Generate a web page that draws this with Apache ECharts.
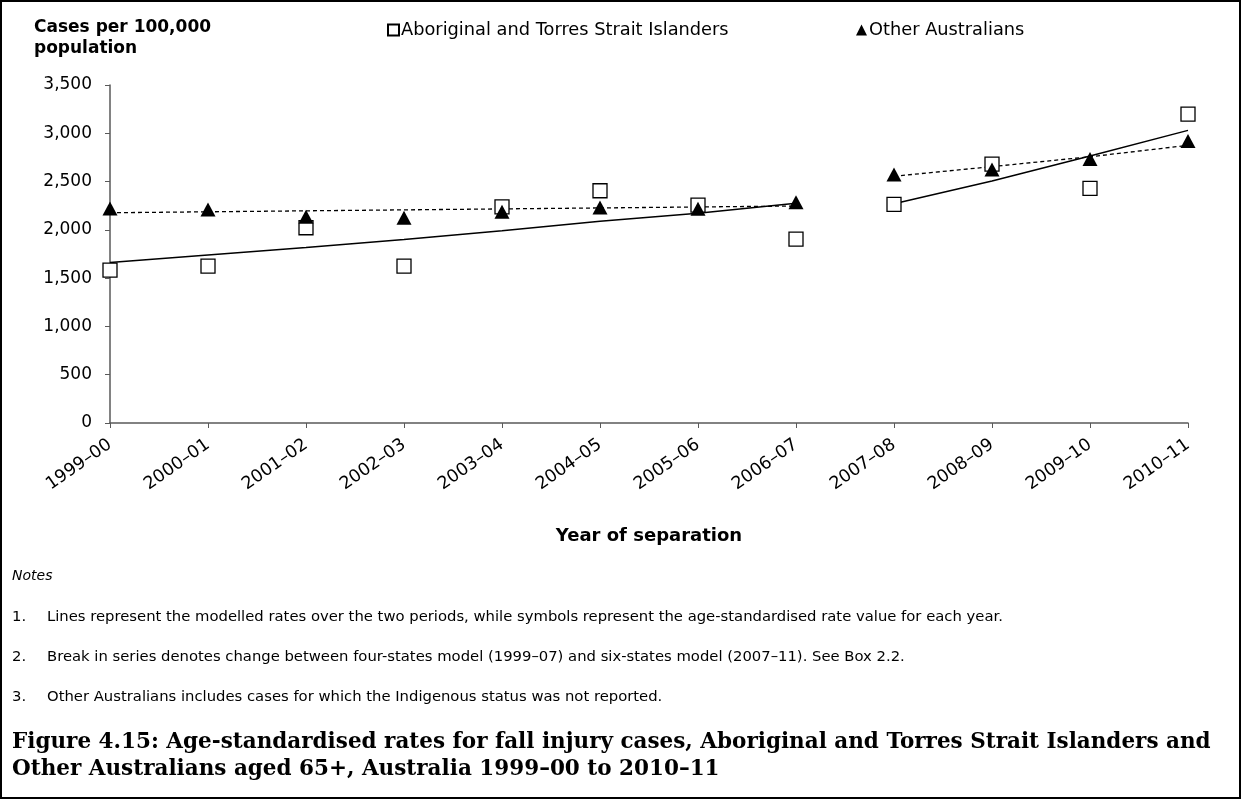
<!DOCTYPE html>
<html>
<head>
<meta charset="utf-8">
<script src="https://cdn.jsdelivr.net/npm/echarts@6/dist/echarts.min.js"></script>
<style>
  html, body { margin: 0; padding: 0; background: #fff; }
  #chart { width: 1242px; height: 800px; }
</style>
</head>
<body>
<div id="chart"></div>
<script>
// categories
const years = ['1999–00', '2000–01', '2001–02', '2002–03', '2003–04', '2004–05',
  '2005–06', '2006–07', '2007–08', '2008–09', '2009–10', '2010–11'];

// age-standardised rate per year (symbols)
const aboriginalRate = [1584, 1625, 2022, 1625, 2239, 2405, 2257, 1905, 2264, 2681, 2429, 3199];
const otherRate = [2222, 2212, 2136, 2125, 2187, 2232, 2218, 2286, 2574, 2626, 2733, 2919];

// modelled rates, four-states model (1999–07) and six-states model (2007–11)
const aboriginalModel = [1663, 1740, 1818, 1900, 1990, 2090, 2171, 2275, '-', '-', '-', '-'];
const otherModel = [2177, 2187, 2197, 2207, 2217, 2227, 2237, 2247, '-', '-', '-', '-'];
const aboriginalModel2 = ['-', '-', '-', '-', '-', '-', '-', '-', 2270, 2505, 2765, 3030];
const otherModel2 = ['-', '-', '-', '-', '-', '-', '-', '-', 2555, 2655, 2757, 2875];

const yTicks = { min: 0, max: 3500, interval: 500 };

const seriesNames = ['Aboriginal and Torres Strait Islanders', 'Other Australians'];

const notes = [
  ['1.', 'Lines represent the modelled rates over the two periods, while symbols represent the age-standardised rate value for each year.'],
  ['2.', 'Break in series denotes change between four-states model (1999–07) and six-states model (2007–11). See Box 2.2.'],
  ['3.', 'Other Australians includes cases for which the Indigenous status was not reported.']
];
const caption = [
  'Figure 4.15: Age-standardised rates for fall injury cases, Aboriginal and Torres Strait Islanders and',
  'Other Australians aged 65+, Australia 1999–00 to 2010–11'
];

const chart = echarts.init(document.getElementById('chart'));
const sans = 'DejaVu Sans, Arial, sans-serif';
const axisColor = '#595959';

function modelLine(data, dashed) {
  return {
    type: 'line',
    data: data,
    symbol: 'none',
    silent: true,
    connectNulls: false,
    z: 1,
    lineStyle: dashed
      ? { color: '#000', width: 1.3, type: [4, 3] }
      : { color: '#000', width: 1.5 }
  };
}

function legendAt(name, left) {
  return {
    data: [name],
    left: left,
    top: 16,
    itemWidth: 11,
    itemHeight: 11,
    textStyle: { fontSize: 17.8, color: '#000', padding: [0, 0, 0, -3] }
  };
}

const graphics = [
  {
    type: 'rect',
    shape: { x: 1, y: 1, width: 1239, height: 797 },
    style: { fill: 'none', stroke: '#000', lineWidth: 2 },
    silent: true
  },
  {
    type: 'text', left: 34, top: 17,
    style: { text: 'Cases per 100,000\npopulation', font: 'bold 17px ' + sans, fill: '#000', lineHeight: 21 }
  },
  {
    type: 'text', left: 12, top: 569,
    style: { text: 'Notes', font: 'italic 14px ' + sans, fill: '#000' }
  }
];
notes.forEach((n, i) => {
  graphics.push({
    type: 'text', left: 12, top: 610 + i * 40,
    style: { text: n[0], font: '14.8px ' + sans, fill: '#000' }
  });
  graphics.push({
    type: 'text', left: 47, top: 610 + i * 40,
    style: { text: n[1], font: '14.8px ' + sans, fill: '#000' }
  });
});
caption.forEach((c, i) => {
  graphics.push({
    type: 'text', left: 12, top: 731 + i * 27,
    style: { text: c, font: 'bold 21.5px DejaVu Serif, serif', fill: '#000' }
  });
});

const option = {
  backgroundColor: '#fff',
  animation: false,
  textStyle: { fontFamily: sans },
  grid: { left: 110, right: 54, top: 85, bottom: 377, containLabel: false },
  legend: [legendAt(seriesNames[0], 382), legendAt(seriesNames[1], 851)],
  xAxis: {
    type: 'category',
    data: years,
    boundaryGap: false,
    name: 'Year of separation',
    nameLocation: 'middle',
    nameGap: 104,
    nameTextStyle: { fontSize: 18, fontWeight: 'bold', color: '#000' },
    axisLine: { lineStyle: { color: axisColor, width: 1.5 } },
    axisTick: { show: true, length: 5, lineStyle: { color: axisColor } },
    axisLabel: { rotate: 35, fontSize: 17.5, color: '#000', margin: 20 },
    splitLine: { show: false }
  },
  yAxis: {
    type: 'value',
    min: yTicks.min,
    max: yTicks.max,
    interval: yTicks.interval,
    axisLine: { show: true, lineStyle: { color: axisColor, width: 1.5 } },
    axisTick: { show: true, length: 5, lineStyle: { color: axisColor } },
    axisLabel: {
      fontSize: 17, color: '#000', margin: 18,
      formatter: v => v.toLocaleString('en-AU')
    },
    splitLine: { show: false }
  },
  series: [
    modelLine(aboriginalModel, false),
    modelLine(otherModel, true),
    modelLine(aboriginalModel2, false),
    modelLine(otherModel2, true),
    {
      name: seriesNames[0],
      type: 'scatter',
      data: aboriginalRate,
      symbol: 'rect',
      symbolSize: 14,
      z: 3,
      itemStyle: { color: '#fff', borderColor: '#000', borderWidth: 1.3, opacity: 1 }
    },
    {
      name: seriesNames[1],
      type: 'scatter',
      data: otherRate,
      symbol: 'triangle',
      symbolSize: [15, 14],
      z: 4,
      itemStyle: { color: '#000', opacity: 1 }
    }
  ],
  graphic: graphics
};

chart.setOption(option);
</script>
</body>
</html>
